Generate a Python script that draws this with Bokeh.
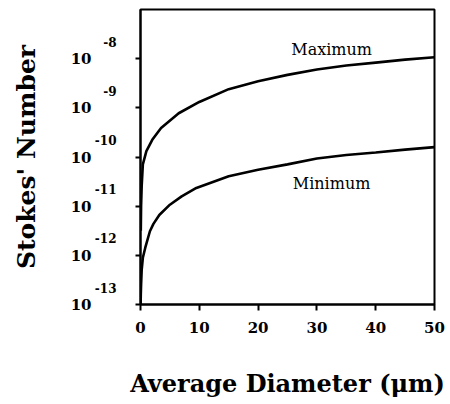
import numpy as np
from bokeh.plotting import figure
from bokeh.models import (ColumnDataSource, FixedTicker, Range1d, LogScale, LogAxis,
                          CustomJSTickFormatter)
from bokeh.core.properties import value
from bokeh.embed import file_html
from bokeh.resources import INLINE

# ---- data (log10 of Stokes' number) ----
diam_max = [0.05, 0.1, 0.2, 0.4, 1, 2, 3.5, 6.5, 10, 15, 20, 25, 30, 35, 40, 45, 50]
log_stokes_max = [-11.5, -11.0, -10.6, -10.15, -9.88, -9.65, -9.41, -9.11, -8.88,
                  -8.62, -8.46, -8.33, -8.22, -8.14, -8.08, -8.02, -7.97]
diam_min = [0.02, 0.05, 0.1, 0.2, 0.4, 0.8, 1.6, 2.2, 3.2, 5, 7, 9.5, 15, 20, 25, 30, 35, 40, 45, 50]
log_stokes_min = [-13.0, -12.8, -12.6, -12.3, -12.05, -11.85, -11.51, -11.36, -11.18, -10.97,
                  -10.80, -10.63, -10.39, -10.26, -10.15, -10.03, -9.96, -9.91, -9.85, -9.80]

x_ticks = [0, 10, 20, 30, 40, 50]
y_tick_exponents = [-13, -12, -11, -10, -9, -8]
y_lo_exp, y_hi_exp = -13, -7

curve_labels = ["Maximum", "Minimum"]
curve_label_x = [32.5, 32.5]
curve_label_log_y = [-7.81, -10.53]

FONT = "DejaVu Serif"
INK = "black"
y_ticks = [10.0 ** e for e in y_tick_exponents]

p = figure(width=448, height=402, y_axis_type="log",
           x_range=Range1d(0, 50), y_range=Range1d(10.0 ** y_lo_exp, 10.0 ** y_hi_exp),
           output_backend="svg", toolbar_location=None,
           min_border_left=140, min_border_right=14,
           min_border_top=9, min_border_bottom=98)

p.grid.visible = False
p.outline_line_color = INK
p.outline_line_width = 2
p.background_fill_color = "white"
p.border_fill_color = "white"

# curves
p.line(diam_max, [10 ** v for v in log_stokes_max], line_color=INK, line_width=2.6)
p.line(diam_min, [10 ** v for v in log_stokes_min], line_color=INK, line_width=2.6)

# curve labels
lab_src = ColumnDataSource(dict(x=curve_label_x, y=[10 ** v for v in curve_label_log_y],
                                t=curve_labels))
p.text(x="x", y="y", text="t", source=lab_src, text_align="center",
       text_baseline="middle", text_font=value(FONT), text_font_size="16px",
       text_color=INK)

# x axis
xa = p.xaxis[0]
xa.ticker = FixedTicker(ticks=x_ticks, minor_ticks=[])
xa.axis_line_width = 2
xa.axis_line_color = INK
xa.major_tick_line_width = 2
xa.major_tick_line_color = INK
xa.major_tick_out = 6
xa.major_tick_in = 0
xa.minor_tick_line_color = None
xa.major_label_text_font = FONT
xa.major_label_text_font_style = "bold"
xa.major_label_text_font_size = "15px"
xa.major_label_text_color = INK
xa.major_label_standoff = 11
xa.axis_label = "Average Diameter (\u03bcm)"
xa.axis_label_text_font = FONT
xa.axis_label_text_font_style = "bold"
xa.axis_label_text_font_size = "24px"
xa.axis_label_text_color = INK
xa.axis_label_standoff = 33

# main y axis: line + ticks only
ya = p.yaxis[0]
ya.ticker = FixedTicker(ticks=y_ticks, minor_ticks=[])
ya.formatter = CustomJSTickFormatter(code="return ''")
ya.axis_line_width = 2
ya.axis_line_color = INK
ya.major_tick_line_width = 2
ya.major_tick_line_color = INK
ya.major_tick_out = 5
ya.major_tick_in = 0
ya.minor_tick_line_color = None
ya.major_label_standoff = 0

# Tick labels "10" and raised exponents drawn by two label-only axes; the
# exponent axis uses a range shifted a fraction of a decade (raised labels).
exp_shift = 0.345   # exponent sits ~17px above the tick
p.extra_y_ranges = {
    "exp": Range1d(10.0 ** (y_lo_exp - exp_shift), 10.0 ** (y_hi_exp - exp_shift)),
}
p.extra_y_scales = {"exp": LogScale()}

def label_axis(code, size, standoff, **kw):
    ax = LogAxis(ticker=FixedTicker(ticks=y_ticks, minor_ticks=[]),
                 formatter=CustomJSTickFormatter(code=code), **kw)
    ax.axis_line_color = None
    ax.major_tick_line_color = None
    ax.minor_tick_line_color = None
    ax.major_tick_out = 0
    ax.major_tick_in = 0
    ax.major_label_standoff = standoff
    ax.major_label_text_font = FONT
    ax.major_label_text_font_style = "bold"
    ax.major_label_text_font_size = size
    ax.major_label_text_color = INK
    return ax

exp_axis = label_axis("return String(Math.round(Math.log10(tick)))", "12px", 19,
                      y_range_name="exp")
base_axis = label_axis("return '10'", "15px", 0)
base_axis.axis_label = "Stokes' Number"
base_axis.axis_label_text_font = FONT
base_axis.axis_label_text_font_style = "bold"
base_axis.axis_label_text_font_size = "25px"
base_axis.axis_label_text_color = INK
base_axis.axis_label_standoff = 27
p.add_layout(exp_axis, "left")
p.add_layout(base_axis, "left")

open("out.html", "w").write(file_html(p, INLINE))
